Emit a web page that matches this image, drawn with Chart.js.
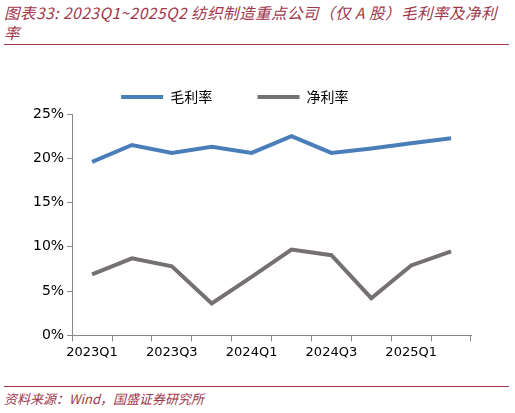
<!DOCTYPE html>
<html><head><meta charset="utf-8">
<script src="https://cdn.jsdelivr.net/npm/chart.js@4"></script>
<style>
body{margin:0;background:#fff;width:515px;height:413px;position:relative;font-family:"Noto Sans CJK SC",sans-serif;}
#title{position:absolute;left:4px;top:2px;width:505px;color:#a0364a;font-size:15.5px;font-style:italic;line-height:20px;border-bottom:1px solid #a0364a;padding-bottom:2px;letter-spacing:0.5px;}
#src{position:absolute;left:4px;top:386px;width:505px;color:#a0364a;font-size:13px;font-style:italic;border-top:1px solid #a0364a;padding-top:2px;}
#wrap{position:absolute;left:0;top:76px;width:515px;height:287px;}
</style></head><body>
<div id="title">图表33:  2023Q1~2025Q2 纺织制造重点公司（仅 A 股）毛利率及净利率</div>
<div id="wrap"><canvas id="c"></canvas></div>
<div id="src">资料来源：Wind，国盛证券研究所</div>
<script>
const categories = ['2023Q1','2023Q2','2023Q3','2023Q4','2024Q1','2024Q2','2024Q3','2024Q4','2025Q1','2025Q2'];
const grossMargin = [19.6, 21.5, 20.6, 21.3, 20.6, 22.5, 20.6, 21.1, 21.7, 22.25];
const netMargin = [6.9, 8.7, 7.8, 3.6, 6.6, 9.7, 9.05, 4.2, 7.9, 9.5];
const yTicks = [0, 5, 10, 15, 20, 25];

new Chart(document.getElementById('c'), {
  type: 'line',
  data: {
    labels: categories,
    datasets: [
      { label: '毛利率', data: grossMargin, borderColor: '#4a7ebb', backgroundColor: '#4a7ebb', borderWidth: 4, pointRadius: 0, tension: 0 },
      { label: '净利率', data: netMargin, borderColor: '#767171', backgroundColor: '#767171', borderWidth: 4, pointRadius: 0, tension: 0 }
    ]
  },
  options: {
    responsive: true,
    maintainAspectRatio: false,
    animation: false,
    layout: { padding: { left: 30, right: 44, top: 0, bottom: 0 } },
    plugins: {
      legend: {
        labels: {
          boxWidth: 42, boxHeight: 4, padding: 14, color: '#000',
          font: { family: 'Noto Sans CJK SC', size: 14 },
          generateLabels: chart => chart.data.datasets.map((d, i) => ({
            text: d.label + '          ', fillStyle: d.borderColor, strokeStyle: d.borderColor, lineWidth: 0, datasetIndex: i
          }))
        }
      },
      tooltip: { enabled: false }
    },
    scales: {
      x: {
        offset: true,
        grid: { display: true, drawOnChartArea: false, offset: true, color: '#888', tickLength: 6 },
        border: { color: '#888' },
        ticks: {
          color: '#000', font: { family: 'Verdana, DejaVu Sans', size: 13 }, maxRotation: 0, autoSkip: false,
          callback: (v, i) => i % 2 === 0 ? categories[i] : ''
        }
      },
      y: {
        min: 0, max: 25,
        afterBuildTicks: s => { s.ticks = yTicks.map(v => ({ value: v })); },
        grid: { display: true, drawOnChartArea: false, color: '#888', tickLength: 5 },
        border: { color: '#888' },
        ticks: { color: '#000', font: { family: 'Verdana, DejaVu Sans', size: 14 }, callback: v => v + '%' }
      }
    }
  }
});
</script>
</body></html>
